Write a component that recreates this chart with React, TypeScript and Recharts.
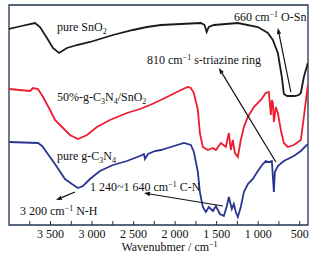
import React from "react";
import {
  LineChart,
  Line,
  XAxis,
  YAxis,
  ReferenceLine,
  ReferenceDot,
  ReferenceArea,
} from "recharts";

// ---- Data (wavenumber in cm^-1, transmittance in arbitrary units) ----
const snO2Wave = [4000, 3850, 3687, 3627, 3543, 3471, 3398, 3302, 3182, 3025, 2905, 2748, 2508, 2339, 2171, 1930, 1690, 1645, 1620, 1595, 1533, 1244, 1004, 883, 823, 763, 715, 691, 650, 560, 510, 486, 450, 402];
const snO2T = [196, 199, 202, 198, 187, 177, 172, 177, 180, 183, 186, 190, 195, 198, 200, 201, 202, 200, 193, 198, 200, 202, 198, 192, 185, 172, 148, 131, 129, 129, 130, 132, 148, 162];

const compWave = [4000, 3747, 3711, 3651, 3590, 3506, 3446, 3362, 3266, 3170, 3061, 2941, 2785, 2580, 2424, 2303, 2171, 2051, 1930, 1846, 1810, 1774, 1726, 1702, 1666, 1606, 1545, 1509, 1449, 1389, 1353, 1329, 1305, 1281, 1245, 1209, 1172, 1124, 1052, 968, 908, 872, 847, 835, 823, 811, 787, 763, 727, 691, 643, 571, 486, 450, 402];
const compT = [136, 134, 137, 136, 128, 115, 105, 98, 90, 86, 90, 98, 105, 112, 116, 120, 125, 130, 135, 138, 137, 132, 115, 92, 78, 75, 77, 75, 82, 78, 92, 75, 85, 72, 68, 85, 98, 108, 118, 125, 132, 133, 110, 125, 122, 103, 118, 112, 95, 82, 78, 80, 85, 108, 140];

const cnWave = [4000, 3651, 3602, 3506, 3422, 3326, 3242, 3170, 3109, 3025, 2905, 2748, 2580, 2424, 2375, 2363, 2327, 2243, 2171, 2051, 1894, 1810, 1774, 1726, 1702, 1666, 1630, 1594, 1545, 1509, 1461, 1413, 1377, 1353, 1317, 1293, 1269, 1245, 1209, 1172, 1124, 1064, 1004, 944, 908, 872, 835, 811, 799, 763, 691, 571, 486, 402];
const cnT = [83, 82, 79, 68, 58, 46, 41, 37, 39, 46, 54, 60, 64, 69, 71, 66, 71, 74, 75, 78, 82, 80, 73, 53, 33, 18, 13, 18, 14, 19, 11, 9, 19, 28, 16, 21, 13, 8, 18, 33, 41, 46, 54, 61, 64, 63, 64, 33, 53, 59, 64, 69, 74, 81];

const xTicks = [3750, 3500, 3250, 3000, 2750, 2500, 2250, 2000, 1750, 1500, 1250, 1000, 750, 500];
const xTickLabels = ["", "3 500", "", "3 000", "", "2 500", "", "2 000", "", "1 500", "", "1 000", "", "500"];

// annotation texts: [wavenumber, value] at the text's left edge / vertical centre
type Part = { t: string; sub?: boolean; sup?: boolean };
const noteWave = [3422, 1292, 2339, 3422, 3422, 3025, 3868];
const noteT = [198, 208, 165, 128, 69, 38, 14];
const noteParts: Part[][] = [
  [{ t: "pure SnO" }, { t: "2", sub: true }],
  [{ t: "660 cm" }, { t: "−1", sup: true }, { t: " O-Sn" }],
  [{ t: "810 cm" }, { t: "−1", sup: true }, { t: " s-triazine ring" }],
  [{ t: "50%-g-C" }, { t: "3", sub: true }, { t: "N" }, { t: "4", sub: true }, { t: "/SnO" }, { t: "2", sub: true }],
  [{ t: "pure g-C" }, { t: "3", sub: true }, { t: "N" }, { t: "4", sub: true }],
  [{ t: "1 240~1 640 cm" }, { t: "−1", sup: true }, { t: " C-N" }],
  [{ t: "3 200 cm" }, { t: "−1", sup: true }, { t: " N-H" }],
];

// arrows: from (w1,t1) to (w2,t2) with head at the end
const arrowFromW = [607, 787, 1425, 3206];
const arrowFromT = [133, 63, 19, 33];
const arrowToW = [763, 1473, 2375, 3434];
const arrowToT = [197, 157, 32, 25];

const snO2Data = snO2Wave.map((w, i) => ({ w, t: snO2T[i] }));
const compData = compWave.map((w, i) => ({ w, t: compT[i] }));
const cnData = cnWave.map((w, i) => ({ w, t: cnT[i] }));

const FONT = '"Liberation Serif", "Times New Roman", serif';
const AXIS_COLOR = "#1f3550";

const renderParts = (parts: Part[]) => {
  let shift = 0;
  return parts.map((p, i) => {
    const target = p.sub ? 3 : p.sup ? -4 : 0;
    const dy = target - shift;
    shift = target;
    return (
      <tspan key={i} dy={dy} fontSize={p.sub || p.sup ? 8 : 12}>
        {p.t}
      </tspan>
    );
  });
};

const NoteShape = (parts: Part[]) => (props: any) => (
  <text
    x={props.cx}
    y={props.cy + 4}
    fontFamily={FONT}
    fontSize={12}
    fill="#111"
  >
    {renderParts(parts)}
  </text>
);

const ArrowShape = (props: any) => {
  const { x1, y1, x2, y2 } = props;
  const dx = x2 - x1;
  const dy = y2 - y1;
  const len = Math.sqrt(dx * dx + dy * dy) || 1;
  const ux = dx / len;
  const uy = dy / len;
  const hl = 6;
  const hw = 2.2;
  const bx = x2 - ux * hl;
  const by = y2 - uy * hl;
  const pts = `${x2},${y2} ${bx - uy * hw},${by + ux * hw} ${bx + uy * hw},${by - ux * hw}`;
  return (
    <g>
      <line x1={x1} y1={y1} x2={bx} y2={by} stroke="#111" strokeWidth={1.2} />
      <polygon points={pts} fill="#111" />
    </g>
  );
};

const AxisLabel = (props: any) => {
  const vb = props.viewBox || { x: 9, y: 225, width: 299, height: 33 };
  return (
    <text
      x={vb.x + vb.width / 2 + 11}
      y={vb.y + 26}
      textAnchor="middle"
      fontFamily={FONT}
      fontSize={12}
      fill="#111"
    >
      <tspan>Wavenubmer / cm</tspan>
      <tspan dy={-4} fontSize={8}>−1</tspan>
    </text>
  );
};

export default function App() {
  return (
    <div style={{ position: "absolute", left: 0, top: 0, width: 322, height: 258, background: "#fff" }}>
      <LineChart width={322} height={258} margin={{ top: 5, right: 14, bottom: 0, left: 9 }}>
        <XAxis
          dataKey="w"
          type="number"
          domain={[400, 4000]}
          reversed
          allowDataOverflow
          ticks={xTicks}
          tickFormatter={(v: number) => xTickLabels[xTicks.indexOf(v)] ?? ""}
          tickSize={-4}
          tickMargin={8}
          height={33}
          axisLine={false}
          tickLine={{ stroke: AXIS_COLOR }}
          tick={{ fontFamily: FONT, fontSize: 12, fill: "#111" }}
          interval={0}
          label={{ content: AxisLabel }}
        />
        <YAxis type="number" domain={[0, 220]} hide allowDataOverflow />
        <ReferenceArea x1={4000} x2={400} y1={0} y2={220} fill="none" stroke={AXIS_COLOR} strokeWidth={1.3} fillOpacity={0} />
        <Line data={snO2Data} dataKey="t" type="linear" stroke="#1a1a1a" strokeWidth={1.8} dot={false} isAnimationActive={false} />
        <Line data={compData} dataKey="t" type="linear" stroke="#ee1c2e" strokeWidth={1.8} dot={false} isAnimationActive={false} />
        <Line data={cnData} dataKey="t" type="linear" stroke="#2a3590" strokeWidth={1.8} dot={false} isAnimationActive={false} />
        {arrowFromW.map((w, i) => (
          <ReferenceLine
            key={`a${i}`}
            segment={[
              { x: w, y: arrowFromT[i] },
              { x: arrowToW[i], y: arrowToT[i] },
            ]}
            shape={ArrowShape}
            ifOverflow="visible"
          />
        ))}
        {noteWave.map((w, i) => (
          <ReferenceDot
            key={`n${i}`}
            x={w}
            y={noteT[i]}
            r={1}
            ifOverflow="visible"
            shape={NoteShape(noteParts[i])}
          />
        ))}
      </LineChart>
    </div>
  );
}
